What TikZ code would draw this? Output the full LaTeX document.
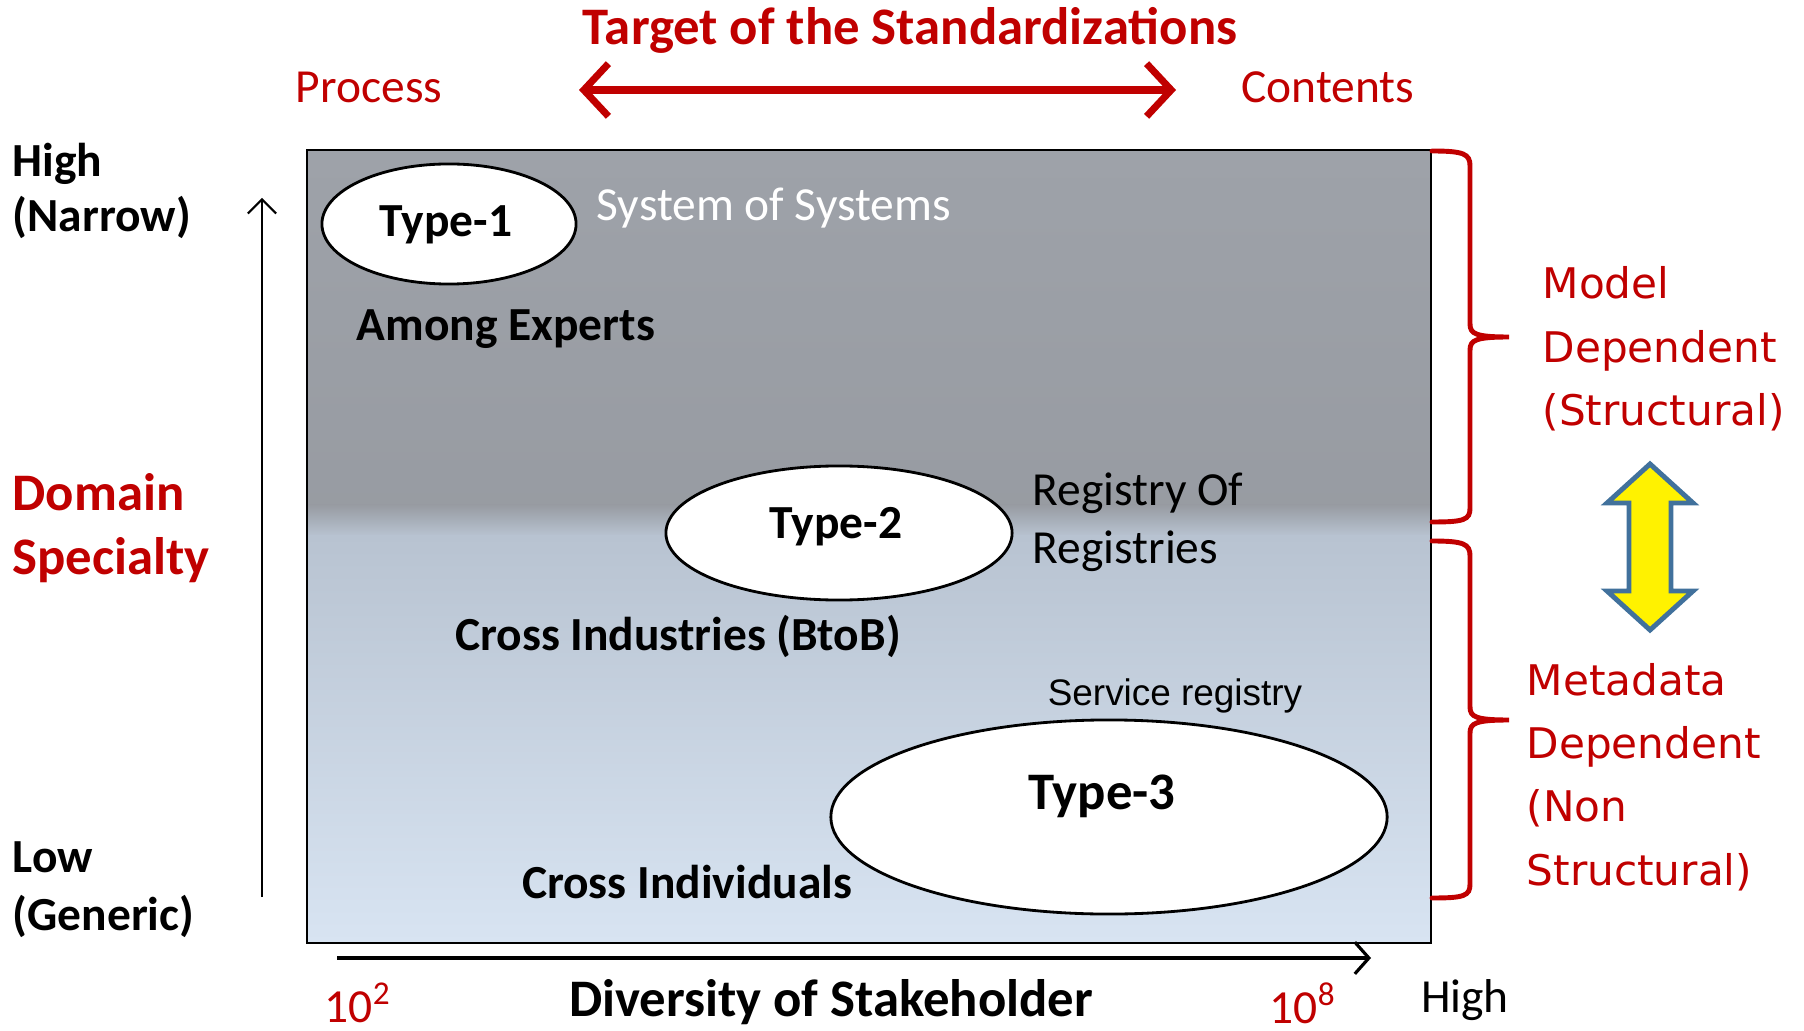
\documentclass[tikz,border=0pt]{standalone}
\usepackage{fontspec}
\setmainfont{Carlito}
\newfontfamily\widefont{DejaVu Sans}
\newfontfamily\arialfont{Liberation Sans}
\usetikzlibrary{arrows.meta,positioning,shapes.geometric}
\definecolor{stdred}{HTML}{C00000}
\definecolor{boxgray}{HTML}{9EA2A9}
\definecolor{boxblue}{HTML}{B8C3D1}
\definecolor{boxpale}{HTML}{D8E4F2}
\definecolor{arrowblue}{HTML}{41719C}

\begin{document}
\begin{tikzpicture}[x=0.01cm, y=-0.01cm]
\tikzstyle{txt} = [inner sep=0pt, font=\fontsize{13.5}{16.5}\selectfont]
\tikzstyle{btxt} = [inner sep=0pt, font=\fontsize{13.5}{16.5}\selectfont\bfseries]
\tikzstyle{bigtxt} = [inner sep=0pt, font=\fontsize{15}{18.3}\selectfont\bfseries]
\tikzstyle{redtxt} = [txt, text=stdred]
\tikzstyle{typeell} = [ellipse, draw, fill=white, line width=0.8pt, inner sep=0pt]
\tikzstyle{sidetxt} = [inner sep=0pt, align=left, anchor=west, text=stdred,
  font=\widefont\fontsize{12}{18}\selectfont]
\tikzstyle{bracket} = [draw=stdred, line width=1.4pt, line cap=round]

\useasboundingbox (0,0) rectangle (1804,1031);

% the field
\shade[top color=boxgray, bottom color=boxgray!96!black] (307,150) rectangle (1431,506);
\shade[top color=boxgray!96!black, bottom color=boxblue] (307,505) rectangle (1431,536);
\shade[top color=boxblue, bottom color=boxpale] (307,535) rectangle (1431,943);
\draw[line width=0.8pt] (307,150) rectangle (1431,943);

% top
\node[bigtxt, text=stdred] (title) at (910,30) {Target of the Standardizations};
\node[redtxt] (proc) at (369,87) {Process};
\node[redtxt] (cont) at (1328,87) {Contents};
\coordinate (tgtL) at (579,90);
\coordinate (tgtR) at (1176,90);
\draw[stdred, line width=2pt, {Straight Barb[length=7pt,width=15pt]}-{Straight Barb[length=7pt,width=15pt]}]
  (tgtL) -- (tgtR);

% vertical axis
\node[btxt, anchor=west, align=left, font=\fontsize{13.5}{15.6}\selectfont\bfseries] (high) at (12,191) {High\\(Narrow)};
\node[bigtxt, text=stdred, anchor=west, align=left] (dom) at (12,528) {Domain\\Specialty};
\node[btxt, anchor=west, align=left] (low) at (12,890) {Low\\(Generic)};
\coordinate (vbot) at (262,897);
\coordinate (vtop) at (262,198);
\draw[line width=0.6pt, -{Straight Barb[length=4pt,width=8pt]}] (vbot) -- (vtop);

% types
\node[typeell, minimum width=2.54cm, minimum height=1.2cm] (t1) at (449,224) {};
\node[btxt] (t1txt) at (446,225) {Type-1};
\node[txt, text=white, anchor=west] (sos) at (596,208) {System of Systems};
\node[btxt] (among) at (506,329) {Among Experts};

\node[typeell, minimum width=3.46cm, minimum height=1.34cm] (t2) at (839,533) {};
\node[btxt] (t2txt) at (836,527) {Type-2};
\node[txt, anchor=west, align=left] (ror) at (1032,522) {Registry Of\\Registries};
\node[btxt] (btob) at (678,636) {Cross Industries (BtoB)};

\node[txt, font=\arialfont\fontsize{10.5}{12}\selectfont] (srv) at (1175,696) {Service registry};
\node[typeell, minimum width=5.56cm, minimum height=1.94cm] (t3) at (1109,817) {};
\node[bigtxt] (t3txt) at (1102,796) {Type-3};
\node[btxt] (indiv) at (687,882) {Cross Individuals};

% brackets
\draw[bracket] (1432,151) .. controls (1464,151) and (1470,154) .. (1470,166) -- (1470,324)
  .. controls (1470,334) and (1476,337) .. (1509,337)
  .. controls (1476,337) and (1470,340) .. (1470,350) -- (1470,508)
  .. controls (1470,520) and (1464,522) .. (1432,522);
\draw[bracket] (1432,541) .. controls (1464,541) and (1470,544) .. (1470,556) -- (1470,707)
  .. controls (1470,717) and (1476,720) .. (1509,720)
  .. controls (1476,720) and (1470,723) .. (1470,733) -- (1470,884)
  .. controls (1470,896) and (1464,898) .. (1432,898);
\node[sidetxt] (model) at (1542,349) {Model\\Dependent\\(Structural)};
\node[sidetxt] (meta) at (1526,777) {Metadata\\Dependent\\(Non\\Structural)};
\draw[fill=yellow, draw=arrowblue, line width=1.4pt, line join=miter]
  (1650,464) -- (1693,503) -- (1671,503) -- (1671,591) -- (1693,591) -- (1650,630)
  -- (1607,591) -- (1629,591) -- (1629,503) -- (1607,503) -- cycle;

% horizontal axis
\coordinate (hleft) at (337,958);
\coordinate (hright) at (1371,958);
\draw[line width=0.9pt, -{Straight Barb[length=4pt,width=9pt]}] (hleft) -- (hright);
\node[redtxt] (e2) at (358,1003) {10\textsuperscript{2}};
\node[bigtxt] (div) at (831,1002) {Diversity of Stakeholder};
\node[redtxt] (e8) at (1303,1003) {10\textsuperscript{8}};
\node[txt] (hi) at (1465,1000) {High};
\end{tikzpicture}
\end{document}
